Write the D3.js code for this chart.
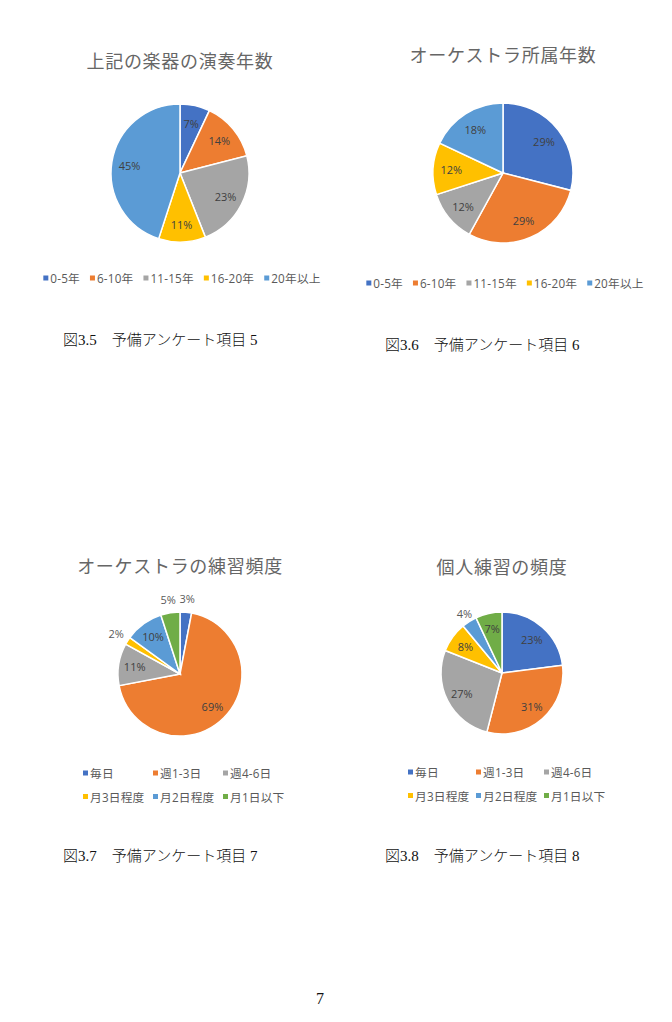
<!DOCTYPE html>
<html lang="ja">
<head>
<meta charset="UTF-8">
<title>予備アンケート項目 5-8</title>
<script src="https://cdn.jsdelivr.net/npm/d3@7"></script>
<style>
  body { margin: 0; background: #fff; }
  .title { font-family: "Noto Sans CJK JP", sans-serif; fill: #666; font-size: 18px; letter-spacing: 0.7px; text-anchor: middle; }
  .pct { font-family: "Open Sans", "Noto Sans CJK JP", sans-serif; font-size: 11px; text-anchor: middle; dominant-baseline: central; }
  .legend text { font-family: "Open Sans", "Noto Sans CJK JP", sans-serif; font-size: 11.7px; fill: #595959; dominant-baseline: central; letter-spacing: 0.2px; }
  .caption { font-family: "Liberation Serif", "Noto Sans CJK JP", serif; font-size: 15px; font-weight: 300; fill: #111; }
  .pageno { font-family: "Liberation Serif", serif; font-size: 16px; fill: #111; text-anchor: middle; }
</style>
</head>
<body>
<div id="page"></div>
<script>
// categories
const yearCats = ['0-5年', '6-10年', '11-15年', '16-20年', '20年以上'];
const freqCats = ['毎日', '週1-3日', '週4-6日', '月3日程度', '月2日程度', '月1日以下'];

// series values (percent)
const playYears = [7, 14, 23, 11, 45];
const orchYears = [29, 29, 12, 12, 18];
const orchPractice = [3, 69, 11, 2, 10, 5];
const selfPractice = [23, 31, 27, 8, 4, 7];

// texts
const chartTitles = ['上記の楽器の演奏年数', 'オーケストラ所属年数', 'オーケストラの練習頻度', '個人練習の頻度'];
const captions = ['図3.5　予備アンケート項目 5', '図3.6　予備アンケート項目 6', '図3.7　予備アンケート項目 7', '図3.8　予備アンケート項目 8'];

const officeColors = ['#4472C4', '#ED7D31', '#A5A5A5', '#FFC000', '#5B9BD5', '#70AD47'];

// layout for each chart
const charts = [
  { cats: yearCats, values: playYears, cx: 180, cy: 173, r: 69, titleY: 68, legendY: 278, legendCols: 0, captionX: 63, captionY: 345, outside: [] },
  { cats: yearCats, values: orchYears, cx: 503, cy: 173, r: 70, titleY: 62, legendY: 283, legendCols: 0, captionX: 385, captionY: 350, outside: [] },
  { cats: freqCats, values: orchPractice, cx: 180, cy: 674, r: 62, titleY: 573, legendY: 773, legendCols: 3, legendX: 83, colW: 70, captionX: 63, captionY: 861, outside: [0, 3, 5] },
  { cats: freqCats, values: selfPractice, cx: 502, cy: 673, r: 61, titleY: 574, legendY: 772, legendCols: 3, legendX: 408, colW: 68, captionX: 385, captionY: 861, outside: [4] }
];

const W = 672, H = 1022;
const svg = d3.select('#page').append('svg')
  .attr('width', W)
  .attr('height', H);

svg.append('rect').attr('width', W).attr('height', H).attr('fill', '#fff');

const color = d3.scaleOrdinal().range(officeColors);

charts.forEach((c, ci) => {
  const g = svg.append('g');
  color.domain(c.cats);

  g.append('text')
    .attr('class', 'title')
    .attr('x', c.cx)
    .attr('y', c.titleY)
    .text(chartTitles[ci]);

  const pie = d3.pie().sort(null).value(d => d.v);
  const rows = c.cats.map((k, i) => ({ k, v: c.values[i], i }));
  const arcs = pie(rows);
  const arc = d3.arc().innerRadius(0).outerRadius(c.r);

  const pg = g.append('g').attr('transform', `translate(${c.cx},${c.cy})`);
  pg.selectAll('path')
    .data(arcs)
    .enter()
    .append('path')
      .attr('d', arc)
      .attr('fill', d => color(d.data.k))
      .attr('stroke', '#fff')
      .attr('stroke-width', 1.5);

  // data labels
  pg.selectAll('text')
    .data(arcs)
    .enter()
    .append('text')
      .attr('class', 'pct')
      .attr('fill', d => c.outside.includes(d.index) ? '#595959' : '#404040')
      .attr('transform', d => {
        const out = c.outside.includes(d.index);
        const rr = out ? c.r * (ci === 3 ? 1.15 : 1.22) : c.r * 0.74;
        const a = (d.startAngle + d.endAngle) / 2;
        return `translate(${rr * Math.sin(a)},${-rr * Math.cos(a)})`;
      })
      .text(d => d.data.v + '%');

  // legend
  const lg = g.append('g').attr('class', 'legend');
  const items = lg.selectAll('g')
    .data(c.cats)
    .enter()
    .append('g');
  items.append('rect')
    .attr('width', 5).attr('height', 5)
    .attr('y', -2.5)
    .attr('fill', d => color(d));
  items.append('text')
    .attr('x', 7)
    .text(d => d);

  if (c.legendCols) {
    items.attr('transform', (d, i) =>
      `translate(${c.legendX + (i % c.legendCols) * c.colW},${c.legendY + Math.floor(i / c.legendCols) * 23.5})`);
  } else {
    const widths = [];
    items.each(function() { widths.push(7 + this.querySelector('text').getComputedTextLength()); });
    const gap = 10;
    const total = d3.sum(widths) + gap * (widths.length - 1);
    let x = c.cx + 2 - total / 2;
    items.attr('transform', (d, i) => {
      const t = `translate(${x},${c.legendY})`;
      x += widths[i] + gap;
      return t;
    });
  }

  g.append('text')
    .attr('class', 'caption')
    .attr('x', c.captionX)
    .attr('y', c.captionY)
    .text(captions[ci]);
});

svg.append('text')
  .attr('class', 'pageno')
  .attr('x', 320)
  .attr('y', 1004)
  .text('7');
</script>
</body>
</html>
